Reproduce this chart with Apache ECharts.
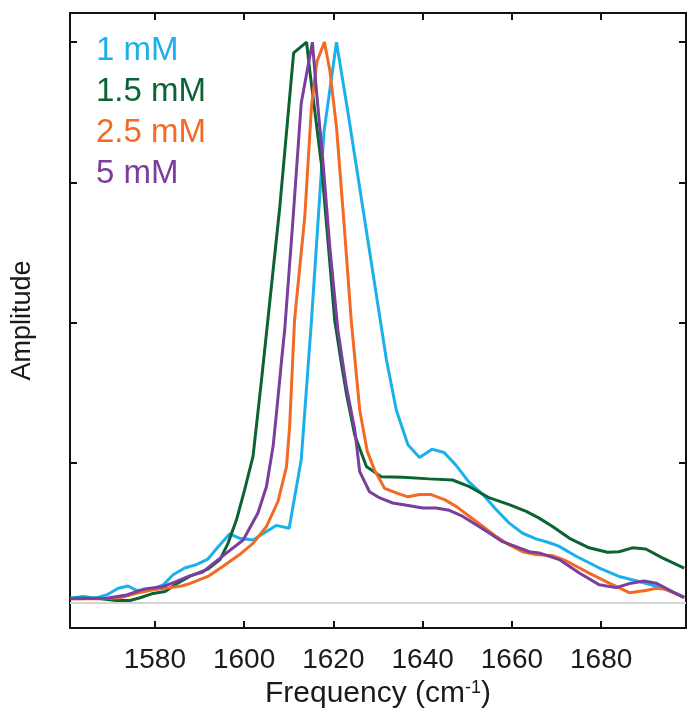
<!DOCTYPE html>
<html>
<head>
<meta charset="utf-8">
<script src="https://cdn.jsdelivr.net/npm/echarts@6/dist/echarts.min.js"></script>
<style>html,body{margin:0;padding:0;background:#fff}#c{width:700px;height:718px}</style>
</head>
<body>
<div id="c"></div>
<script>
const seriesNames = ['1 mM', '1.5 mM', '2.5 mM', '5 mM'];
const seriesColors = ['#1CB0EA', '#0B6334', '#F26A24', '#7A3E9C'];
const xTicks = [1580, 1600, 1620, 1640, 1660, 1680];
const yTicks = [0.25, 0.5, 0.75, 1];

const blue = [
  [1561.0,0.008],[1564.0,0.011],[1566.6,0.008],[1569.2,0.014],[1571.8,0.026],[1574.0,0.030],
  [1575.9,0.022],[1578.9,0.023],[1581.9,0.032],[1584.1,0.050],[1586.7,0.062],[1589.3,0.068],
  [1591.9,0.078],[1594.2,0.100],[1596.8,0.123],[1599.0,0.115],[1602.0,0.112],[1605.0,0.127],
  [1607.2,0.138],[1610.1,0.133],[1612.8,0.255],[1615.1,0.504],[1617.9,0.840],[1620.7,1.000],
  [1623.3,0.873],[1631.9,0.433],[1634.1,0.344],[1636.7,0.282],[1639.3,0.259],[1642.1,0.274],
  [1644.8,0.268],[1647.4,0.246],[1650.3,0.216],[1653.5,0.193],[1656.5,0.166],[1659.4,0.142],
  [1662.4,0.124],[1665.4,0.114],[1668.4,0.107],[1670.5,0.101],[1674.4,0.083],[1679.6,0.062],
  [1684.0,0.047],[1688.5,0.038],[1693.0,0.028],[1698.6,0.011]
];
const green = [
  [1561.0,0.008],[1567.0,0.008],[1571.4,0.004],[1574.4,0.004],[1576.7,0.009],[1579.3,0.016],
  [1582.3,0.020],[1584.9,0.034],[1587.8,0.047],[1591.9,0.060],[1594.6,0.077],[1596.4,0.106],
  [1598.3,0.148],[1600.1,0.201],[1602.0,0.261],[1603.9,0.397],[1608.0,0.706],[1611.1,0.981],
  [1614.0,1.000],[1614.7,0.950],[1617.3,0.784],[1620.3,0.504],[1621.8,0.427],[1622.9,0.374],
  [1624.8,0.299],[1627.4,0.243],[1630.7,0.225],[1635.6,0.224],[1641.5,0.221],[1646.7,0.219],
  [1650.5,0.207],[1655.0,0.187],[1659.4,0.175],[1663.2,0.163],[1666.1,0.151],[1669.1,0.136],
  [1672.9,0.115],[1677.3,0.098],[1681.4,0.090],[1684.0,0.091],[1687.0,0.098],[1690.0,0.096],
  [1693.7,0.080],[1698.6,0.062]
];
const orange = [
  [1561.0,0.007],[1567.7,0.007],[1572.2,0.009],[1575.9,0.017],[1579.6,0.023],[1583.4,0.027],
  [1586.0,0.030],[1587.8,0.034],[1591.9,0.047],[1595.3,0.065],[1599.0,0.086],[1602.0,0.106],
  [1605.0,0.136],[1607.6,0.181],[1609.5,0.243],[1610.2,0.314],[1611.3,0.504],[1613.6,0.689],
  [1615.1,0.885],[1616.3,0.965],[1618.0,1.000],[1619.2,0.950],[1620.7,0.849],[1622.5,0.665],
  [1624.0,0.504],[1625.9,0.344],[1627.6,0.270],[1629.2,0.237],[1631.5,0.204],[1634.1,0.196],
  [1636.7,0.189],[1639.3,0.193],[1641.9,0.193],[1644.9,0.184],[1647.5,0.172],[1650.5,0.154],
  [1653.5,0.136],[1656.5,0.118],[1659.4,0.103],[1662.4,0.091],[1665.4,0.086],[1669.1,0.084],
  [1672.1,0.075],[1677.3,0.053],[1681.8,0.035],[1686.3,0.018],[1690.0,0.022],[1692.3,0.026],
  [1694.5,0.024],[1698.6,0.009]
];
const purple = [
  [1561.0,0.007],[1569.2,0.008],[1573.7,0.014],[1577.4,0.024],[1581.9,0.029],[1584.9,0.038],
  [1587.8,0.048],[1590.8,0.055],[1592.3,0.065],[1596.1,0.089],[1599.8,0.112],[1603.1,0.160],
  [1605.0,0.207],[1606.5,0.279],[1607.4,0.350],[1608.4,0.433],[1609.1,0.487],[1611.0,0.689],
  [1612.8,0.891],[1615.3,1.000],[1616.2,0.914],[1617.7,0.784],[1619.2,0.635],[1621.0,0.487],
  [1622.9,0.386],[1624.8,0.308],[1625.9,0.234],[1628.1,0.198],[1630.4,0.187],[1633.3,0.178],
  [1637.1,0.173],[1640.0,0.169],[1643.0,0.169],[1646.0,0.165],[1649.0,0.154],[1652.0,0.139],
  [1655.0,0.124],[1657.9,0.109],[1660.9,0.100],[1663.9,0.091],[1666.1,0.089],[1670.6,0.077],
  [1675.1,0.053],[1679.6,0.032],[1683.3,0.027],[1686.7,0.035],[1689.6,0.039],[1692.3,0.035],
  [1698.6,0.009]
];
const seriesData = [blue, green, orange, purple];

const FONT = "'Liberation Sans', Arial, Helvetica, sans-serif";
const TXT = '#1a1a1a';
const X_MIN = 1561, X_MAX = 1699, Y_MIN = -0.045, Y_MAX = 1.052;
const TOP_TICK_LEN = 0.0125; // inward tick length at the top edge, in value units
const chart = echarts.init(document.getElementById('c'), null, {renderer: 'canvas'});

const mkLine = () => ({show: true, onZero: false, lineStyle: {color: '#111', width: 2}});
const mkTickStyle = () => ({color: '#111', width: 2});

const xAxes = [{
  type: 'value', position: 'bottom', min: X_MIN, max: X_MAX,
  splitLine: {show: false}, axisLine: mkLine(),
  axisTick: {show: true, inside: true, length: 7, customValues: xTicks, lineStyle: mkTickStyle()},
  axisLabel: {show: true, customValues: xTicks, fontSize: 28, fontFamily: FONT, margin: 18,
    color: TXT, formatter: v => String(v)},
  name: 'Frequency (cm{sup|-1})', nameLocation: 'middle', nameGap: 50,
  nameTextStyle: {fontSize: 30, color: TXT, fontFamily: FONT,
    rich: {sup: {fontSize: 18, color: TXT, fontFamily: FONT, verticalAlign: 'top', padding: [0,0,12,0]}}}
}, {
  type: 'value', position: 'top', min: X_MIN, max: X_MAX,
  splitLine: {show: false}, axisLine: mkLine(),
  axisTick: {show: false}, axisLabel: {show: false}
}];

const yAxes = [{
  type: 'value', position: 'left', min: Y_MIN, max: Y_MAX,
  splitLine: {show: false}, axisLine: mkLine(),
  axisTick: {show: true, inside: true, length: 7, customValues: yTicks, lineStyle: mkTickStyle()},
  axisLabel: {show: false},
  name: 'Amplitude', nameLocation: 'middle', nameGap: 34, nameRotate: 90,
  nameTextStyle: {fontSize: 27, color: TXT, fontFamily: FONT}
}, {
  type: 'value', position: 'right', min: Y_MIN, max: Y_MAX,
  splitLine: {show: false}, axisLine: mkLine(),
  axisTick: {show: true, inside: true, length: 7, customValues: yTicks, lineStyle: mkTickStyle()},
  axisLabel: {show: false}
}];

const series = [{
  type: 'line', data: [], z: 1, silent: true, xAxisIndex: 0, yAxisIndex: 0,
  markLine: {silent: true, symbol: 'none', label: {show: false},
    lineStyle: {color: '#d4d4d4', width: 2, type: 'solid'},
    data: [{yAxis: 0}], animation: false}
}, {
  // inward tick marks along the top frame at the x tick values
  type: 'line', data: [], z: 2, silent: true, xAxisIndex: 0, yAxisIndex: 0,
  markLine: {silent: true, symbol: 'none', label: {show: false},
    lineStyle: {color: '#111', width: 2, type: 'solid'},
    data: xTicks.map(v => [{xAxis: v, yAxis: Y_MAX}, {xAxis: v, yAxis: Y_MAX - TOP_TICK_LEN}]),
    animation: false}
}];
seriesNames.forEach((n, i) => {
  series.push({
    name: n, type: 'line', data: seriesData[i], showSymbol: false, symbol: 'none',
    xAxisIndex: 0, yAxisIndex: 0,
    lineStyle: {color: seriesColors[i], width: 3}, itemStyle: {color: seriesColors[i]},
    z: 3 + i, animation: false
  });
});

chart.setOption({
  backgroundColor: '#ffffff',
  animation: false,
  grid: {left: 70, right: 14, top: 13, bottom: 90, containLabel: false, outerBoundsMode: 'none'},
  legend: {
    orient: 'vertical', left: 86, top: 29, itemGap: 8, itemWidth: 0, itemHeight: 0,
    icon: 'none', selectedMode: false,
    data: seriesNames.map((n, i) => ({name: n, textStyle: {color: seriesColors[i]}})),
    textStyle: {fontSize: 33, fontFamily: FONT, padding: [0,0,0,0]}
  },
  xAxis: xAxes,
  yAxis: yAxes,
  series: series
});
</script>
</body>
</html>
